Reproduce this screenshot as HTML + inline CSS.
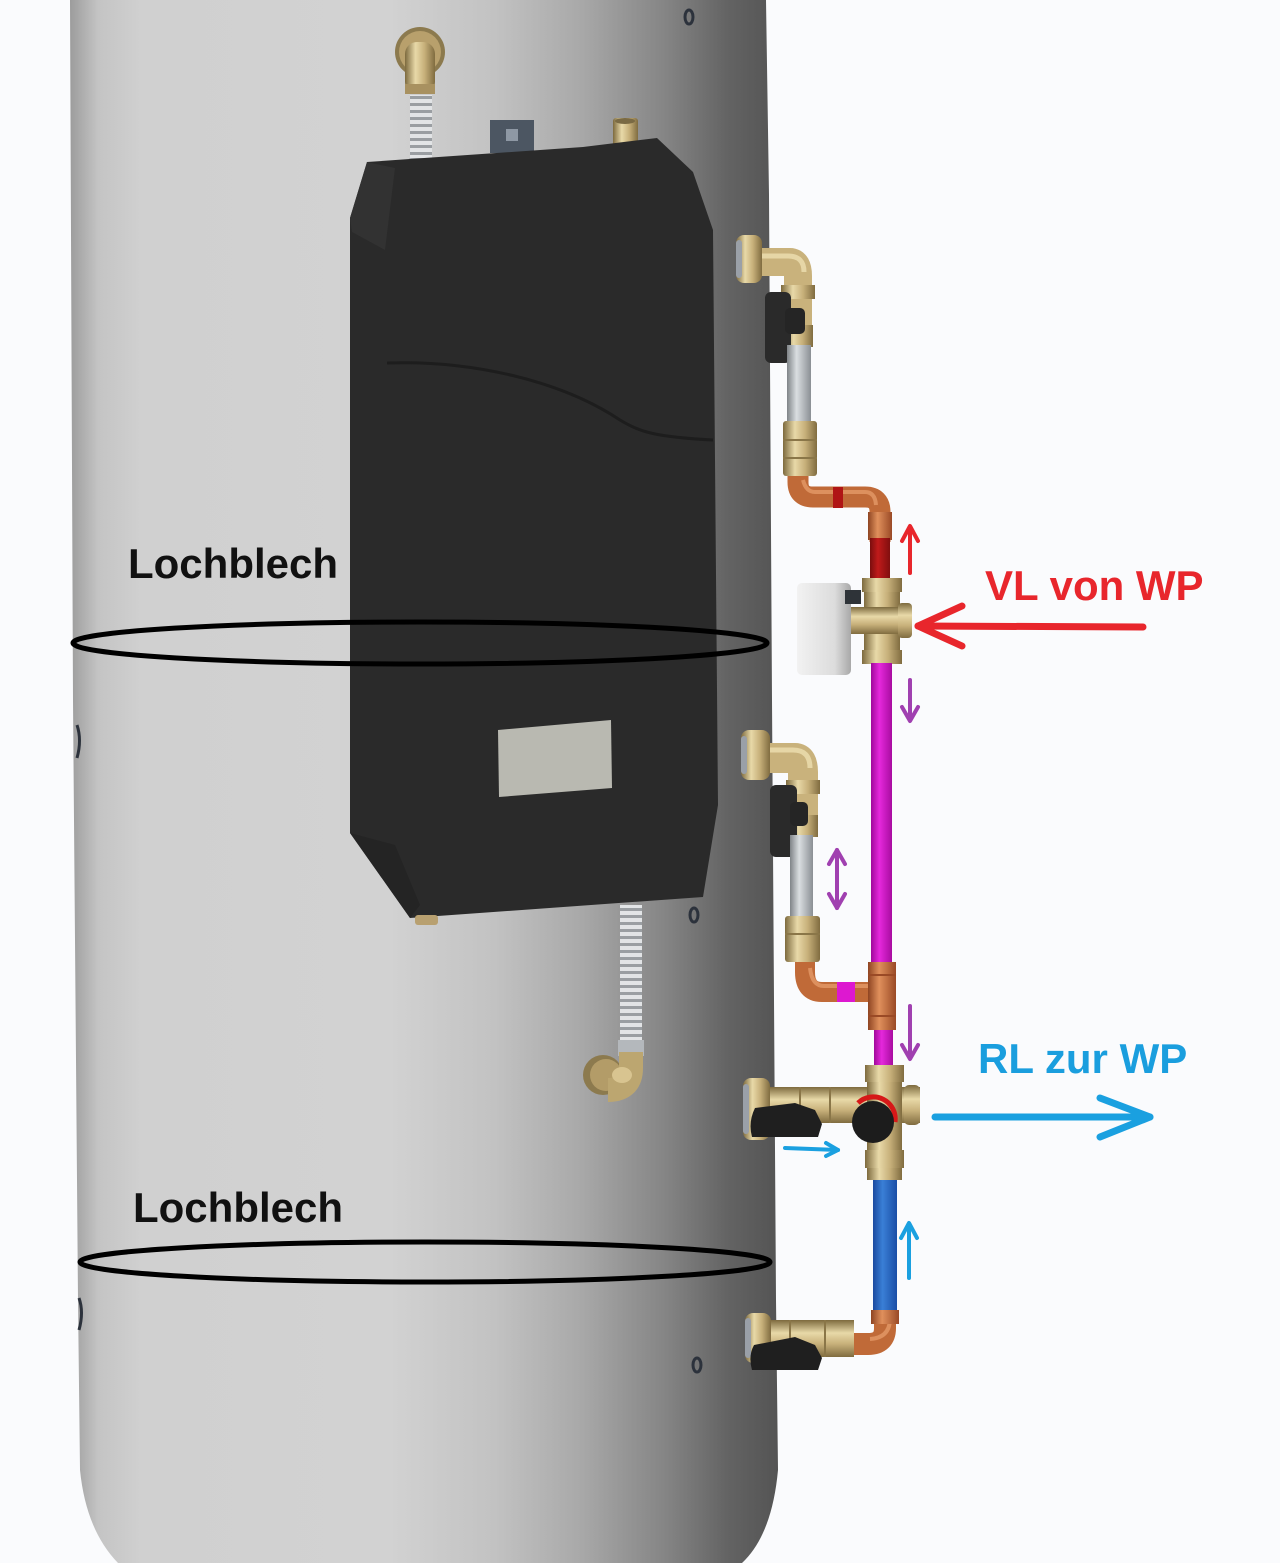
<!DOCTYPE html>
<html>
<head>
<meta charset="utf-8">
<style>
html,body{margin:0;padding:0;background:#fafbfd;}
svg{display:block;}
text{font-family:"Liberation Sans",Arial,sans-serif;font-weight:bold;}
</style>
</head>
<body>
<svg width="1280" height="1563" viewBox="0 0 1280 1563" xmlns="http://www.w3.org/2000/svg">
<defs>
  <linearGradient id="tank" gradientUnits="userSpaceOnUse" x1="70" y1="0" x2="778" y2="0">
    <stop offset="0" stop-color="#9c9c9c"/>
    <stop offset="0.04" stop-color="#c4c4c4"/>
    <stop offset="0.1" stop-color="#d0d0d0"/>
    <stop offset="0.45" stop-color="#d2d2d2"/>
    <stop offset="0.6" stop-color="#c2c2c2"/>
    <stop offset="0.72" stop-color="#a9a9a9"/>
    <stop offset="0.84" stop-color="#858585"/>
    <stop offset="0.93" stop-color="#636363"/>
    <stop offset="1" stop-color="#545454"/>
  </linearGradient>
  <linearGradient id="brassV" x1="0" y1="0" x2="1" y2="0">
    <stop offset="0" stop-color="#7d6a3e"/>
    <stop offset="0.35" stop-color="#e8d9a8"/>
    <stop offset="0.65" stop-color="#c7b07a"/>
    <stop offset="1" stop-color="#806c40"/>
  </linearGradient>
  <linearGradient id="brassH" x1="0" y1="0" x2="0" y2="1">
    <stop offset="0" stop-color="#7d6a3e"/>
    <stop offset="0.35" stop-color="#e8d9a8"/>
    <stop offset="0.65" stop-color="#c7b07a"/>
    <stop offset="1" stop-color="#806c40"/>
  </linearGradient>
  <linearGradient id="copperV" x1="0" y1="0" x2="1" y2="0">
    <stop offset="0" stop-color="#8e4422"/>
    <stop offset="0.4" stop-color="#e0905c"/>
    <stop offset="1" stop-color="#9a4a26"/>
  </linearGradient>
  <linearGradient id="silverV" x1="0" y1="0" x2="1" y2="0">
    <stop offset="0" stop-color="#7f8488"/>
    <stop offset="0.4" stop-color="#dadee1"/>
    <stop offset="1" stop-color="#8a8f94"/>
  </linearGradient>
  <linearGradient id="magV" x1="0" y1="0" x2="1" y2="0">
    <stop offset="0" stop-color="#a0089a"/>
    <stop offset="0.4" stop-color="#e528dc"/>
    <stop offset="1" stop-color="#a80ca0"/>
  </linearGradient>
  <linearGradient id="blueV" x1="0" y1="0" x2="1" y2="0">
    <stop offset="0" stop-color="#1a4aa0"/>
    <stop offset="0.4" stop-color="#3a7fd6"/>
    <stop offset="1" stop-color="#1a4ea6"/>
  </linearGradient>
  <linearGradient id="redV" x1="0" y1="0" x2="1" y2="0">
    <stop offset="0" stop-color="#7a0e0e"/>
    <stop offset="0.4" stop-color="#c01a1a"/>
    <stop offset="1" stop-color="#800f0f"/>
  </linearGradient>
  <linearGradient id="act" x1="0" y1="0" x2="1" y2="0">
    <stop offset="0" stop-color="#f2f2f2"/>
    <stop offset="0.7" stop-color="#dcdcdc"/>
    <stop offset="1" stop-color="#a8a8a8"/>
  </linearGradient>
  <linearGradient id="hose" x1="0" y1="0" x2="0" y2="1" spreadMethod="repeat">
    <stop offset="0" stop-color="#7e8286"/>
    <stop offset="0.5" stop-color="#e4e6e8"/>
    <stop offset="1" stop-color="#7e8286"/>
  </linearGradient>
  <pattern id="corr" x="0" y="0" width="22" height="7" patternUnits="userSpaceOnUse">
    <rect width="22" height="7" fill="#9a9ea2"/>
    <rect y="1" width="22" height="4" fill="#e2e4e6"/>
  </pattern>
</defs>

<rect width="1280" height="1563" fill="#fafbfd"/>

<!-- Tank -->
<path d="M70,0 L766,0 L769,195 L772,700 L776,1300 L778,1470 Q772,1535 742,1563 L118,1563 Q86,1530 80,1470 L78,1300 L73,700 Z" fill="url(#tank)"/>

<!-- holes -->
<g fill="none" stroke="#2c323c" stroke-width="3">
  <ellipse cx="689" cy="17" rx="4" ry="7"/>
  <ellipse cx="694" cy="915" rx="4" ry="7"/>
  <ellipse cx="697" cy="1365" rx="4" ry="7"/>
  <path d="M77,725 Q82,740 77,758"/>
  <path d="M79,1298 Q84,1312 79,1330"/>
</g>

<!-- top hose -->
<rect x="410" y="95" width="22" height="70" fill="url(#corr)"/>
<rect x="408" y="158" width="27" height="12" fill="#9ea2a6" rx="3"/>
<circle cx="420" cy="52" r="25" fill="#8c7a4e"/>
<circle cx="420" cy="52" r="21" fill="#b8a06c"/>
<rect x="405" y="42" width="30" height="52" rx="12" fill="url(#brassV)"/>
<rect x="405" y="84" width="30" height="10" fill="#a89160"/>
<!-- bracket -->
<rect x="490" y="120" width="44" height="33" fill="#4c5662"/>
<rect x="506" y="129" width="12" height="12" fill="#8e98a4"/>
<!-- fitting -->
<rect x="613" y="118" width="25" height="36" rx="3" fill="url(#brassV)"/>
<ellipse cx="625" cy="121" rx="10" ry="3" fill="#7a6a44"/>

<!-- Black box -->
<path d="M367,162 L583,147 L657,138 L693,172 L713,230 L718,805 L703,897 L410,918 L350,833 L350,218 Z" fill="#2a2a2a"/>
<path d="M350,218 L367,162 L395,168 L385,250 L352,232 Z" fill="#323232"/>
<path d="M350,833 L410,918 L420,905 L395,845 Z" fill="#242424"/>
<path d="M387,363 C470,360 560,380 620,420 C640,432 655,437 713,440" fill="none" stroke="#1d1d1d" stroke-width="3"/>
<!-- label -->
<path d="M498,730 L611,720 L612,788 L499,797 Z" fill="#b9b9b1"/>
<rect x="415" y="915" width="23" height="10" rx="3" fill="#b8a070"/>

<!-- bottom hose -->
<rect x="620" y="905" width="22" height="150" fill="url(#corr)"/>
<rect x="618" y="1040" width="26" height="16" fill="#b4b8bc"/>
<circle cx="603" cy="1075" r="20" fill="#8c7a4e"/>
<circle cx="606" cy="1075" r="16" fill="#b39c68"/>
<path d="M631,1052 L631,1068 Q631,1090 608,1090" fill="none" stroke="#bca670" stroke-width="24"/>
<ellipse cx="622" cy="1075" rx="10" ry="8" fill="#d8c490"/>

<!-- Lochblech rings -->
<ellipse cx="420" cy="643" rx="347" ry="21" fill="none" stroke="#000" stroke-width="5"/>
<ellipse cx="425" cy="1262" rx="345" ry="20" fill="none" stroke="#000" stroke-width="5"/>

<text x="128" y="578" font-size="42" fill="#111">Lochblech</text>
<text x="133" y="1222" font-size="42" fill="#111">Lochblech</text>

<!-- ===== Upper pipe set ===== -->
<!-- copper S -->
<path d="M798,470 V482 Q798,497 813,497 H865 Q880,497 880,512 V542" fill="none" stroke="#c06a38" stroke-width="21"/>
<path d="M803,480 Q806,492 815,492 H865 Q875,492 876,505" fill="none" stroke="#e39a68" stroke-width="4" opacity="0.8"/>
<rect x="833" y="487" width="10" height="21" fill="#b01515"/>
<rect x="868" y="512" width="24" height="28" fill="url(#copperV)"/>
<rect x="870" y="538" width="20" height="42" fill="url(#redV)"/>
<!-- elbow brass -->
<path d="M758,262 H790 Q798,262 798,276 V345" fill="none" stroke="#c9b27c" stroke-width="28"/>
<path d="M760,256 H788 Q804,256 804,272" fill="none" stroke="#e6d6a6" stroke-width="5"/>
<rect x="781" y="285" width="34" height="14" fill="url(#brassV)"/>
<rect x="783" y="325" width="30" height="22" fill="url(#brassV)"/>
<!-- nut -->
<rect x="736" y="235" width="26" height="48" rx="8" fill="url(#brassV)"/>
<rect x="736" y="240" width="6" height="38" rx="3" fill="#9aa0a8"/>
<!-- handle -->
<rect x="765" y="292" width="26" height="71" rx="6" fill="#2a2a2a"/>
<rect x="785" y="308" width="20" height="26" rx="5" fill="#252525"/>
<!-- silver -->
<rect x="787" y="345" width="24" height="78" fill="url(#silverV)"/>
<!-- coupling -->
<rect x="783" y="421" width="34" height="55" rx="3" fill="url(#brassV)"/>
<line x1="783" y1="440" x2="817" y2="440" stroke="#8a7648" stroke-width="2"/>
<line x1="783" y1="458" x2="817" y2="458" stroke="#8a7648" stroke-width="2"/>
<!-- valve -->
<rect x="864" y="578" width="36" height="86" fill="url(#brassV)"/>
<rect x="862" y="578" width="40" height="14" fill="url(#brassV)"/>
<rect x="837" y="607" width="74" height="27" fill="url(#brassH)"/>
<rect x="898" y="603" width="14" height="35" rx="4" fill="url(#brassH)"/>
<rect x="862" y="650" width="40" height="14" fill="url(#brassV)"/>
<!-- actuator -->
<rect x="797" y="583" width="54" height="92" rx="5" fill="url(#act)"/>
<rect x="845" y="590" width="16" height="14" fill="#2e3338"/>

<!-- magenta main -->
<rect x="871" y="663" width="21" height="301" fill="url(#magV)"/>

<!-- ===== Middle pipe set ===== -->
<path d="M805,955 V972 Q805,992 822,992 H870" fill="none" stroke="#c06a38" stroke-width="20"/>
<path d="M810,968 Q812,986 824,986 H868" fill="none" stroke="#e39a68" stroke-width="4" opacity="0.8"/>
<rect x="837" y="982" width="18" height="20" fill="#dd18d0"/>
<rect x="868" y="962" width="28" height="68" fill="url(#copperV)"/>
<line x1="868" y1="975" x2="896" y2="975" stroke="#9a4a26" stroke-width="2"/>
<line x1="868" y1="1016" x2="896" y2="1016" stroke="#9a4a26" stroke-width="2"/>
<rect x="874" y="1030" width="19" height="38" fill="url(#magV)"/>

<path d="M768,758 H795 Q803,758 803,772 V835" fill="none" stroke="#c9b27c" stroke-width="30"/>
<path d="M770,750 H793 Q810,750 810,768" fill="none" stroke="#e6d6a6" stroke-width="5"/>
<rect x="786" y="780" width="34" height="14" fill="url(#brassV)"/>
<rect x="788" y="815" width="30" height="22" fill="url(#brassV)"/>
<rect x="741" y="730" width="29" height="50" rx="8" fill="url(#brassV)"/>
<rect x="741" y="736" width="6" height="38" rx="3" fill="#9aa0a8"/>
<rect x="770" y="785" width="27" height="72" rx="6" fill="#2a2a2a"/>
<rect x="790" y="802" width="18" height="24" rx="5" fill="#252525"/>
<rect x="790" y="835" width="23" height="83" fill="url(#silverV)"/>
<rect x="785" y="916" width="35" height="46" rx="3" fill="url(#brassV)"/>
<line x1="785" y1="934" x2="820" y2="934" stroke="#8a7648" stroke-width="2"/>

<!-- lower mixing valve -->
<rect x="873" y="1165" width="24" height="152" fill="url(#blueV)"/>
<rect x="760" y="1087" width="160" height="36" fill="url(#brassH)"/>
<line x1="800" y1="1087" x2="800" y2="1123" stroke="#8a7648" stroke-width="2"/>
<line x1="830" y1="1087" x2="830" y2="1123" stroke="#8a7648" stroke-width="2"/>
<rect x="743" y="1078" width="27" height="62" rx="8" fill="url(#brassV)"/>
<rect x="743" y="1084" width="6" height="50" rx="3" fill="#9aa0a8"/>
<rect x="867" y="1065" width="35" height="115" fill="url(#brassV)"/>
<rect x="865" y="1065" width="39" height="17" fill="url(#brassV)"/>
<rect x="865" y="1150" width="39" height="18" fill="url(#brassV)"/>
<rect x="904" y="1085" width="16" height="40" rx="5" fill="url(#brassH)"/>
<path d="M755,1108 L795,1103 L815,1110 L822,1124 L818,1137 L752,1137 Q748,1122 755,1108 Z" fill="#1f1f1f"/>
<path d="M858,1103 A22,22 0 0 1 895,1122" fill="none" stroke="#d61818" stroke-width="5"/>
<circle cx="873" cy="1122" r="21" fill="#1c1c1c"/>

<!-- bottom copper elbow & valve -->
<path d="M885,1312 V1328 Q885,1344 868,1344 H845" fill="none" stroke="#c06a38" stroke-width="22"/>
<path d="M890,1320 Q889,1338 870,1339" fill="none" stroke="#e39a68" stroke-width="4" opacity="0.8"/>
<rect x="871" y="1310" width="28" height="14" fill="url(#copperV)"/>
<rect x="762" y="1320" width="92" height="37" fill="url(#brassH)"/>
<line x1="790" y1="1320" x2="790" y2="1357" stroke="#8a7648" stroke-width="2"/>
<line x1="825" y1="1320" x2="825" y2="1357" stroke="#8a7648" stroke-width="2"/>
<rect x="745" y="1313" width="26" height="50" rx="8" fill="url(#brassV)"/>
<rect x="745" y="1318" width="6" height="40" rx="3" fill="#9aa0a8"/>
<path d="M754,1345 L795,1337 L815,1345 L822,1358 L818,1370 L752,1370 Q748,1356 754,1345 Z" fill="#1f1f1f"/>

<!-- ===== Arrows ===== -->
<g stroke="#e8262c" stroke-width="4" fill="none" stroke-linecap="round" stroke-linejoin="round">
  <line x1="910" y1="573" x2="910" y2="527"/>
  <polyline points="902,541 910,526 918,541"/>
</g>
<g stroke="#e8262c" stroke-width="7" fill="none" stroke-linecap="round" stroke-linejoin="round">
  <line x1="1143" y1="627" x2="918" y2="626"/>
  <polyline points="962,606 918,626 962,646"/>
</g>
<g stroke="#a040b0" stroke-width="4" fill="none" stroke-linecap="round" stroke-linejoin="round">
  <line x1="910" y1="680" x2="910" y2="720"/>
  <polyline points="902,707 910,721 918,707"/>
  <line x1="837" y1="850" x2="837" y2="908"/>
  <polyline points="829,864 837,850 845,864"/>
  <polyline points="829,894 837,908 845,894"/>
  <line x1="910" y1="1006" x2="910" y2="1058"/>
  <polyline points="902,1045 910,1059 918,1045"/>
</g>
<g stroke="#1aa0e0" stroke-width="4" fill="none" stroke-linecap="round" stroke-linejoin="round">
  <line x1="785" y1="1148" x2="838" y2="1150"/>
  <polyline points="826,1143 838,1150 826,1156"/>
  <line x1="909" y1="1278" x2="909" y2="1224"/>
  <polyline points="901,1238 909,1223 917,1238"/>
</g>
<g stroke="#1aa0e0" stroke-width="7" fill="none" stroke-linecap="round" stroke-linejoin="round">
  <line x1="935" y1="1117" x2="1150" y2="1117"/>
  <polyline points="1100,1098 1150,1117 1100,1137"/>
</g>

<text x="985" y="600" font-size="42" fill="#e8262c">VL von WP</text>
<text x="978" y="1073" font-size="42" fill="#1a9ede">RL zur WP</text>
</svg>
</body>
</html>
